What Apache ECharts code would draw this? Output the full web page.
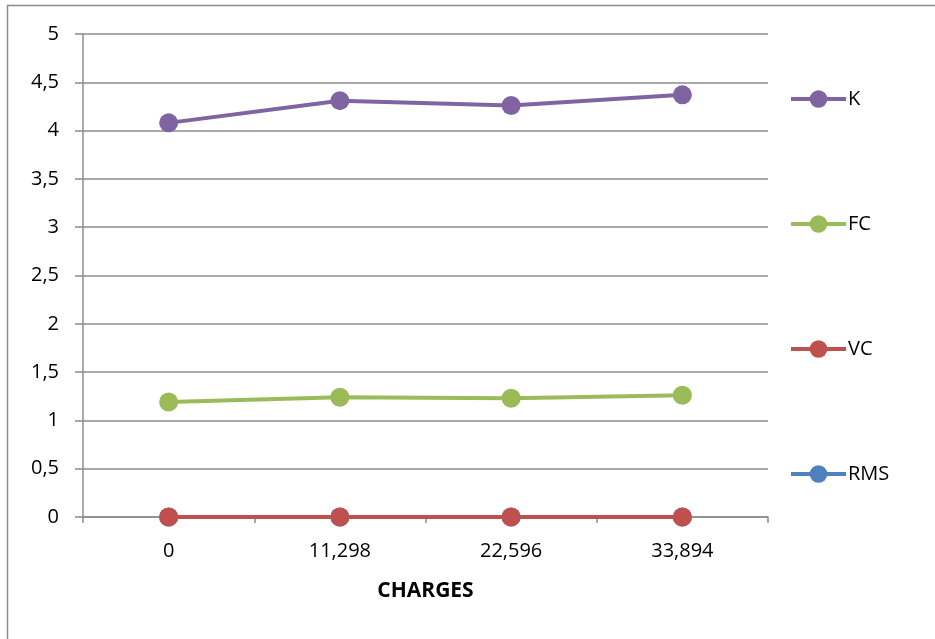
<!DOCTYPE html>
<html>
<head>
<meta charset="utf-8">
<script src="https://cdn.jsdelivr.net/npm/echarts@6/dist/echarts.min.js"></script>
<style>
  html, body { margin: 0; padding: 0; background: #fff; }
  #chart { width: 935px; height: 639px; }
</style>
</head>
<body>
<div id="chart"></div>
<script>
// Categories (charges) and measured values per series
const categories = ['0', '11,298', '22,596', '33,894'];
const kValues = [4.08, 4.31, 4.26, 4.37];
const fcValues = [1.19, 1.24, 1.23, 1.26];
const vcValues = [0, 0, 0, 0];
const rmsValues = [0, 0, 0, 0];
const legendOrder = ['K', 'FC', 'VC', 'RMS'];

const colors = { K: '#8064A2', FC: '#9BBB59', VC: '#C0504D', RMS: '#4F81BD' };
const FONT = '"Open Sans", "Noto Sans", sans-serif';

function lineSeries(name, data) {
  return {
    name: name,
    type: 'line',
    data: data,
    symbol: 'circle',
    symbolSize: 19,
    lineStyle: { width: 4, color: colors[name] },
    itemStyle: { color: colors[name] },
    emphasis: { disabled: true },
    animation: false
  };
}

const chart = echarts.init(document.getElementById('chart'), null, { renderer: 'canvas' });
chart.setOption({
  backgroundColor: '#ffffff',
  animation: false,
  graphic: [{
    type: 'rect',
    shape: { x: 7.5, y: 5.5, width: 940, height: 640 },
    style: { fill: 'none', stroke: '#8c8c8c', lineWidth: 1.5 },
    silent: true
  }],
  grid: { left: 83, right: 167, top: 34, bottom: 122, containLabel: false },
  legend: {
    orient: 'vertical',
    left: 784,
    top: 83,
    itemWidth: 55,
    itemHeight: 22,
    itemGap: 103,
    data: legendOrder,
    lineStyle: { width: 4 },
    textStyle: { fontFamily: FONT, fontSize: 20, color: '#000', lineHeight: 22, padding: [0, 0, 0, -3] },
    selectedMode: false
  },
  xAxis: {
    type: 'category',
    data: categories,
    boundaryGap: true,
    name: 'CHARGES',
    nameLocation: 'middle',
    nameGap: 64,
    nameTextStyle: { fontFamily: FONT, fontSize: 21, fontWeight: 'bold', color: '#000' },
    axisLine: { show: true, lineStyle: { color: '#8c8c8c', width: 1.5 } },
    axisTick: { show: true, length: 6, inside: false, alignWithLabel: false, lineStyle: { color: '#8c8c8c', width: 1.5 } },
    axisLabel: { fontFamily: FONT, fontSize: 20, color: '#000', margin: 24 },
    splitLine: { show: false }
  },
  yAxis: {
    type: 'value',
    min: 0,
    max: 5,
    interval: 0.5,
    axisLine: { show: true, lineStyle: { color: '#8c8c8c', width: 1.5 } },
    axisTick: { show: true, length: 8, lineStyle: { color: '#8c8c8c', width: 1.5 } },
    axisLabel: {
      fontFamily: FONT, fontSize: 20, color: '#000', margin: 24,
      formatter: v => String(v).replace('.', ',')
    },
    splitLine: { show: true, lineStyle: { color: '#8c8c8c', width: 1.5 } }
  },
  series: [
    lineSeries('RMS', rmsValues),
    lineSeries('VC', vcValues),
    lineSeries('FC', fcValues),
    lineSeries('K', kValues)
  ]
});
</script>
</body>
</html>
